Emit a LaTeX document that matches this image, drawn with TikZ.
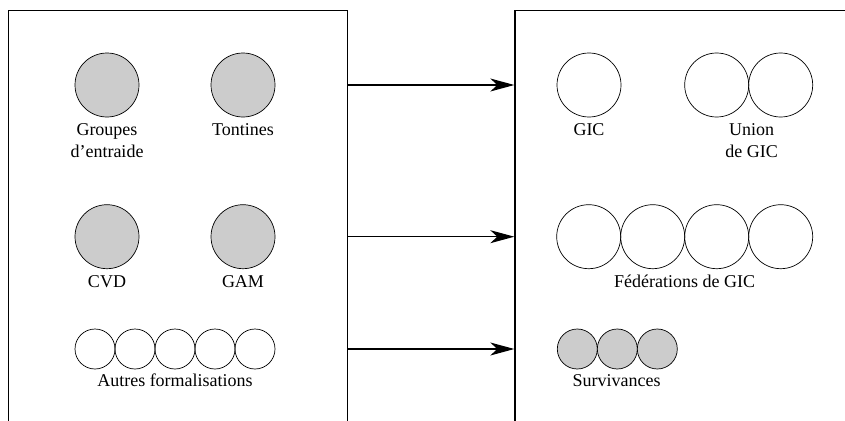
\documentclass[tikz,border=0pt]{standalone}
\usepackage{fontspec}
\setmainfont{Liberation Serif}
\usetikzlibrary{arrows.meta}
\begin{document}
\begin{tikzpicture}[x=1pt,y=-1pt,
  frame/.style={draw=black,line width=1.2pt},
  bigc/.style={circle,draw=black,line width=0.7pt,minimum size=64pt,inner sep=0pt},
  smallc/.style={circle,draw=black,line width=0.7pt,minimum size=40pt,inner sep=0pt},
  grey/.style={fill=black!20},
  lbl/.style={anchor=base,inner sep=0pt,font=\fontsize{18}{22}\selectfont},
  conn/.style={draw=black,line width=1.1pt,-{Stealth[length=24pt,width=13pt,inset=7pt]}}]
\useasboundingbox (0,0) rectangle (845,420);
\clip (0,0) rectangle (845,420);
% frames
\node[frame,minimum width=339pt,minimum height=440pt,anchor=north west,inner sep=0pt] (L) at (8,10) {};
\node[frame,minimum width=360pt,minimum height=440pt,anchor=north west,inner sep=0pt] (R) at (514.3,10) {};
% left circles
\node[bigc,grey] (g1) at (107,85) {};
\node[bigc,grey] (g2) at (243,85) {};
\node[bigc,grey] (g3) at (107,236.7) {};
\node[bigc,grey] (g4) at (243,236.7) {};
\foreach \i/\x in {1/95,2/135,3/175,4/215,5/255}
  \node[smallc] (a\i) at (\x,349) {};
\node[lbl] (t1a) at (107,135) {Groupes};
\node[lbl] (t1b) at (107,157) {d’entraide};
\node[lbl] (t2) at (243,135) {Tontines};
\node[lbl] (t3) at (107,287) {CVD};
\node[lbl] (t4) at (243,287) {GAM};
\node[lbl] (t5) at (175,386) {Autres formalisations};
% right circles
\node[bigc] (r1) at (589,85) {};
\node[bigc] (u1) at (716.7,85) {};
\node[bigc] (u2) at (780.7,85) {};
\foreach \i/\x in {1/588.7,2/652.7,3/716.7,4/780.7}
  \node[bigc] (f\i) at (\x,236.7) {};
\foreach \i/\x in {1/577.3,2/617.3,3/657.3}
  \node[smallc,grey] (s\i) at (\x,349) {};
\node[lbl] (rt1) at (589,135) {GIC};
\node[lbl] (rt2a) at (751.7,135) {Union};
\node[lbl] (rt2b) at (751.7,157) {de GIC};
\node[lbl] (rt3) at (684.7,287) {Fédérations de GIC};
\node[lbl] (rt4) at (616.7,386) {Survivances};
% connectors
\coordinate (p1) at (347,85);
\coordinate (q1) at (514.3,85);
\coordinate (p2) at (347,236.7);
\coordinate (q2) at (514.3,236.7);
\coordinate (p3) at (347,349);
\coordinate (q3) at (514.3,349);
\draw[conn] (p1) -- (q1);
\draw[conn] (p2) -- (q2);
\draw[conn] (p3) -- (q3);
\end{tikzpicture}
\end{document}
